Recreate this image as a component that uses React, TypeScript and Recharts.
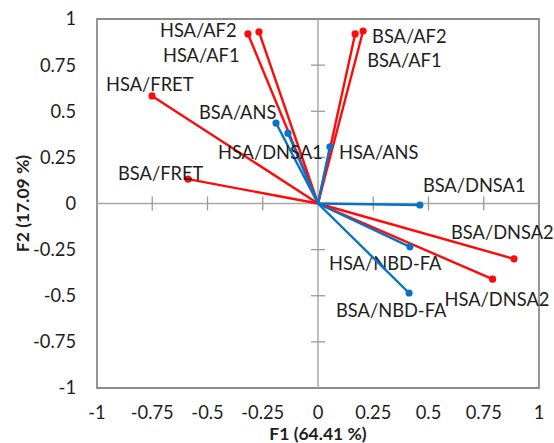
import React from "react";
import {
  ReferenceArea,
  ReferenceDot,
  ReferenceLine,
  Scatter,
  ScatterChart,
  XAxis,
  YAxis
} from "recharts";

// Loadings on the first two factors
const names = [
  "HSA/AF2",
  "HSA/AF1",
  "HSA/FRET",
  "BSA/FRET",
  "BSA/AF2",
  "BSA/AF1",
  "BSA/DNSA2",
  "HSA/DNSA2",
  "BSA/ANS",
  "HSA/DNSA1",
  "HSA/ANS",
  "BSA/DNSA1",
  "HSA/NBD-FA",
  "BSA/NBD-FA"
];
const f1 = [-0.317, -0.267, -0.751, -0.588, 0.204, 0.168, 0.887, 0.79, -0.19, -0.136, 0.054, 0.461, 0.416, 0.412];
const f2 = [0.919, 0.93, 0.583, 0.132, 0.935, 0.919, -0.3, -0.41, 0.436, 0.381, 0.307, -0.008, -0.235, -0.485];
const groups = ["r", "r", "r", "r", "r", "r", "r", "r", "b", "b", "b", "b", "b", "b"];

const axisTicks = [-1, -0.75, -0.5, -0.25, 0, 0.25, 0.5, 0.75, 1];
const innerTicks = [-0.75, -0.5, -0.25, 0.25, 0.5, 0.75];

const COLORS: Record<string, string> = { r: "#ff0a0a", b: "#0a72c4" };
const FONT = "Lato, 'Open Sans', sans-serif";
const TEXT = "#1e1e1e";
const FS = 18.3;

// where each name sits relative to its arrow tip (px)
const labelOffset: Record<string, [number, number]> = {
  "HSA/AF2": [-88, -4],
  "HSA/AF1": [-96, 23],
  "HSA/FRET": [-46, -12],
  "BSA/FRET": [-70, -6],
  "BSA/AF2": [9, 5],
  "BSA/AF1": [12, 26],
  "BSA/DNSA2": [-63, -26],
  "HSA/DNSA2": [-48, 20],
  "BSA/ANS": [-77, -11],
  "HSA/DNSA1": [-70, 19],
  "HSA/ANS": [9, 6],
  "BSA/DNSA1": [3, -20],
  "HSA/NBD-FA": [-81, 17],
  "BSA/NBD-FA": [-73, 17]
};

const vectors = names.map((name, i) => ({
  name,
  color: COLORS[groups[i]],
  data: [
    { x: 0, y: 0 },
    { x: f1[i], y: f2[i], name }
  ]
}));

function Tip(props: any) {
  const { cx, cy, payload, fill } = props;
  if (!payload || !payload.name) return <g />;
  const [dx, dy] = labelOffset[payload.name] ?? [6, 0];
  return (
    <g>
      <circle cx={cx} cy={cy} r={3.6} fill={fill} />
      <text
        x={cx + dx}
        y={cy + dy}
        dy="0.36em"
        fontFamily={FONT}
        fontSize={FS}
        fill={TEXT}
      >
        {payload.name}
      </text>
    </g>
  );
}

const HTick = (p: any) => (
  <line x1={p.cx - 7} x2={p.cx + 7} y1={p.cy} y2={p.cy} stroke="#9a9a9a" strokeWidth={1.3} />
);
const VTick = (p: any) => (
  <line x1={p.cx} x2={p.cx} y1={p.cy - 7} y2={p.cy + 7} stroke="#9a9a9a" strokeWidth={1.3} />
);

const tickStyle = { fill: TEXT, fontSize: FS, fontFamily: FONT };

export default function App() {
  return (
    <div style={{ position: "absolute", left: 0, top: 0, background: "#fff" }}>
      <ScatterChart width={554} height={443} margin={{ top: 19, right: 15, bottom: 0, left: 0 }}>
        <XAxis
          type="number"
          dataKey="x"
          domain={[-1, 1]}
          ticks={axisTicks}
          interval={0}
          axisLine={false}
          tickLine={false}
          tickSize={0}
          tickMargin={18}
          height={55}
          tick={tickStyle}
          label={{
            value: "F1 (64.41 %)",
            position: "insideBottom",
            offset: 3,
            style: { fontFamily: FONT, fontSize: 17.5, fontWeight: 700, fill: TEXT }
          }}
        />
        <YAxis
          type="number"
          dataKey="y"
          domain={[-1, 1]}
          ticks={axisTicks}
          interval={0}
          axisLine={false}
          tickLine={false}
          tickSize={0}
          tickMargin={21}
          width={97}
          tick={tickStyle}
          label={{
            value: "F2 (17.09 %)",
            angle: -90,
            position: "insideLeft",
            offset: 23,
            style: { fontFamily: FONT, fontSize: 17.5, fontWeight: 700, fill: TEXT, textAnchor: "middle" }
          }}
        />
        <ReferenceArea x1={-1} x2={1} y1={-1} y2={1} fill="none" stroke="#8c8c8c" strokeWidth={1.8} />
        <ReferenceLine x={0} stroke="#a8a8a8" strokeWidth={1.5} />
        <ReferenceLine y={0} stroke="#a8a8a8" strokeWidth={1.5} />
        {innerTicks.map((t) => (
          <ReferenceDot key={`h${t}`} x={0} y={t} shape={HTick} />
        ))}
        {innerTicks.map((t) => (
          <ReferenceDot key={`v${t}`} x={t} y={0} shape={VTick} />
        ))}
        {vectors.map((v) => (
          <Scatter
            key={v.name}
            data={v.data}
            fill={v.color}
            line={{ stroke: v.color, strokeWidth: 2.4 }}
            shape={Tip}
            isAnimationActive={false}
          />
        ))}
      </ScatterChart>
    </div>
  );
}
